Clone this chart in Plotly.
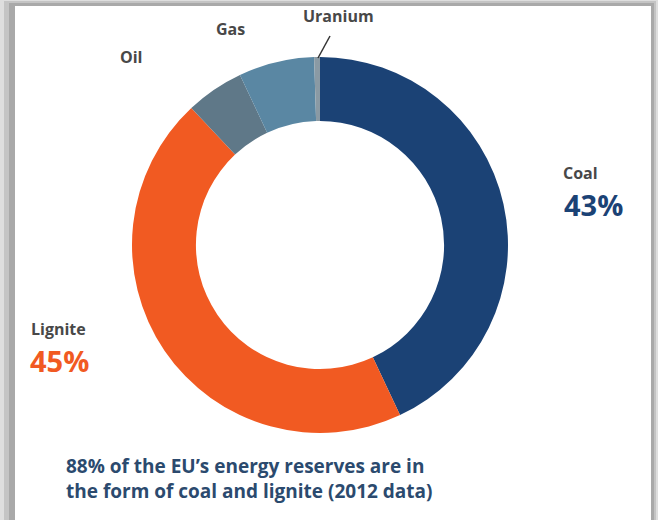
import plotly.graph_objects as go

W, H = 658, 520

# Data
categories = ["Coal", "Lignite", "Oil", "Gas", "Uranium"]
shares = [43, 45, 5, 6.5, 0.5]
colors = ["#1b4275", "#f15a22", "#5f7888", "#5a87a3", "#8a9aa4"]

# Label texts
pct_labels = {"Coal": "43%", "Lignite": "45%"}
caption_lines = [
    "88% of the EU\u2019s energy reserves are in",
    "the form of coal and lignite (2012 data)",
]


def px(x):
    return x / W


def py(y):
    return 1 - y / H


cx, cy, R = 320, 245, 188

fig = go.Figure()
fig.add_trace(
    go.Pie(
        labels=categories,
        values=shares,
        marker=dict(colors=colors, line=dict(width=0)),
        hole=0.66,
        sort=False,
        direction="clockwise",
        rotation=0,
        textinfo="none",
        showlegend=False,
        domain=dict(x=[px(cx - R), px(cx + R)], y=[py(cy + R), py(cy - R)]),
    )
)

label_font = dict(family="Open Sans", size=16, color="#484848")
pct_size = 29
ann = []


def add_text(text, x, y, font, yanchor="middle", align="left"):
    ann.append(
        dict(
            text=text, x=px(x), y=py(y), xref="paper", yref="paper",
            xanchor="left", yanchor=yanchor, showarrow=False, font=font,
            align=align, borderpad=0,
        )
    )


add_text("<b>Uranium</b>", 302, 16, label_font)
add_text("<b>Gas</b>", 215, 29, label_font)
add_text("<b>Oil</b>", 119, 57, label_font)
add_text("<b>Coal</b>", 562, 185, label_font, yanchor="bottom")
add_text("<b>Lignite</b>", 30, 341, label_font, yanchor="bottom")
add_text("<b>" + pct_labels["Coal"] + "</b>", 563, 184,
         dict(family="Open Sans", size=pct_size, color=colors[0]), yanchor="top")
add_text("<b>" + pct_labels["Lignite"] + "</b>", 29, 340,
         dict(family="Open Sans", size=pct_size, color=colors[1]), yanchor="top")

cap_font = dict(family="Open Sans", size=19, color="#2b4a6e")
add_text("<b>" + caption_lines[0] + "<br>" + caption_lines[1] + "</b>", 65, 478, cap_font)

shapes = [
    # shadowed frame
    dict(type="rect", xref="paper", yref="paper", x0=px(4), x1=px(656), y0=0, y1=py(1),
         fillcolor="#c4c4c4", line=dict(width=0), layer="below"),
    dict(type="rect", xref="paper", yref="paper", x0=px(9), x1=px(654), y0=0, y1=py(3),
         fillcolor="#a9a9a9", line=dict(width=0), layer="below"),
    dict(type="rect", xref="paper", yref="paper", x0=px(15), x1=px(651), y0=0, y1=py(6),
         fillcolor="#ffffff", line=dict(width=0), layer="below"),
    # leader line for Uranium
    dict(type="line", xref="paper", yref="paper", x0=px(318), y0=py((cy - R) + 1), x1=px(330), y1=py(36),
         line=dict(color="#333333", width=1.5)),
]

fig.update_layout(
    width=W, height=H,
    margin=dict(l=0, r=0, t=0, b=0),
    paper_bgcolor="#dedede",
    plot_bgcolor="#ffffff",
    annotations=ann,
    shapes=shapes,
)

fig.write_html("out.html")
